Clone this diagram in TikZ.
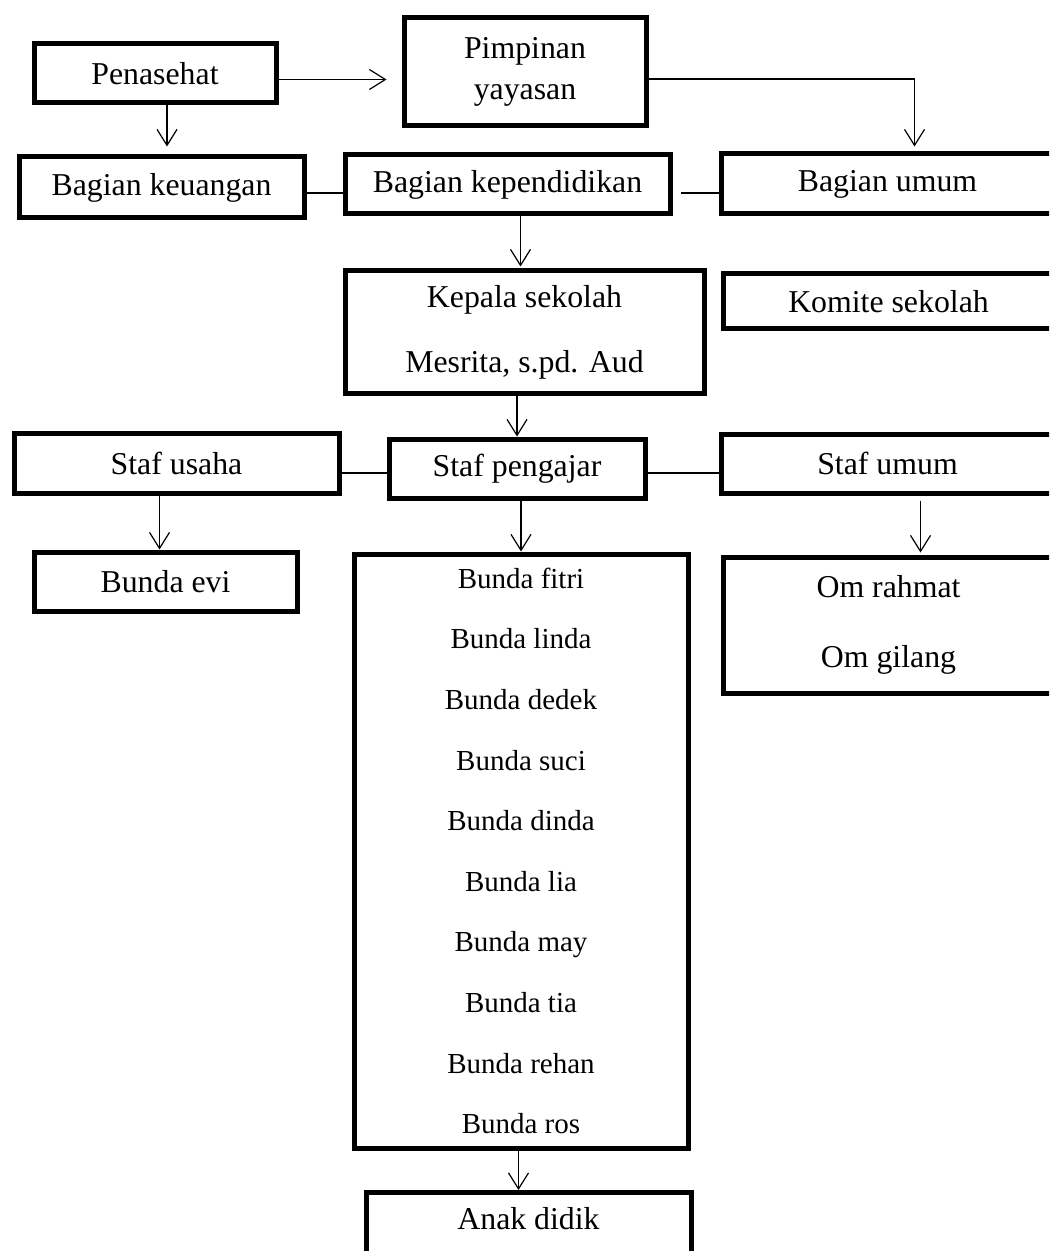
\documentclass[tikz,border=0pt]{standalone}
\usepackage{fontspec}
\setmainfont{Liberation Serif}
\usepackage{tikz}
\usetikzlibrary{arrows.meta}

\begin{document}
\begin{tikzpicture}[x=0.5pt, y=-0.5pt,
      box/.style={draw, line width=2.5pt, inner sep=0pt, align=center, font=\fontsize{15.9}{20.5}\selectfont},
      list/.style={box, font=\fontsize{14.5}{30.3}\selectfont},
      arr/.style={-{Straight Barb[length=8pt,width=10pt]}, line width=0.6pt},
      link/.style={line width=0.6pt}
    ]
    \useasboundingbox (0,0) rectangle (1049,1251);
    \clip (0,0) rectangle (1049,1251);
    \node[box, minimum width=121pt, minimum height=29.5pt] (pen) at (155,73.5) {Penasehat};
    \node[box, minimum width=121pt, minimum height=54pt] (pim) at (525,72) {Pimpinan\\yayasan};
    \node[box, minimum width=142.5pt, minimum height=30.5pt] (keu) at (161.5,187.5) {Bagian keuangan};
    \node[box, minimum width=162.5pt, minimum height=29.5pt] (kep) at (507.5,184.5) {Bagian kependidikan};
    \node[box, minimum width=166.5pt, minimum height=30pt] (umum) at (887.5,184) {Bagian umum};
    \node[box, minimum width=179.5pt, minimum height=61pt, font=\fontsize{15.9}{32.5}\selectfont] (kepsek) at (524.5,332) {Kepala sekolah\\Mesrita, s.pd. Aud};
    \node[box, minimum width=165.5pt, minimum height=27.5pt] (komite) at (888.5,301.5) {Komite sekolah};
    \node[box, minimum width=162.5pt, minimum height=30pt] (stu) at (176.5,463) {Staf usaha};
    \node[box, minimum width=128pt, minimum height=29.5pt] (stp) at (517,468.5) {Staf pengajar};
    \node[box, minimum width=166.5pt, minimum height=29.5pt] (stm) at (887.5,463.5) {Staf umum};
    \node[box, minimum width=131.5pt, minimum height=29.5pt] (evi) at (165.5,581.5) {Bunda evi};
    \node[list, minimum width=167pt, minimum height=297pt] (guru) at (521,851) {Bunda fitri\\Bunda linda\\Bunda dedek\\Bunda suci\\Bunda dinda\\Bunda lia\\Bunda may\\Bunda tia\\Bunda rehan\\Bunda ros};
    \node[box, minimum width=165.5pt, minimum height=68pt, font=\fontsize{15.9}{35}\selectfont] (om) at (888.5,625) {Om rahmat\\Om gilang};
    \node[box, minimum width=162.5pt, anchor=north, inner ysep=7.5pt, text height=11pt, text depth=30pt] (anak) at (528.5,1190) {Anak didik};
    % top level
    \draw[arr, shorten >=7.5pt] ([yshift=-3pt]pen.east) -- ([yshift=-3pt]pen.east -| pim.west);
    \draw[arr, shorten >=2.5pt] ([yshift=-3.5pt]pim.east) -| ([xshift=13.5pt]umum.north);
    \draw[arr, shorten >=4pt] ([xshift=6pt]pen.south) -- ([xshift=6pt]pen.south |- keu.north);
    \draw[link] ([yshift=-4.25pt]kep.west) -- ([yshift=-4.25pt]kep.west -| keu.east);
    \draw[link] ([yshift=-4.25pt, xshift=4pt]kep.east) -- ([yshift=-4.25pt]kep.east -| umum.west);
    \draw[arr, shorten >=1pt] ([xshift=-2pt]kepsek.north |- kep.south) -- ([xshift=-2pt]kepsek.north);
    % staf
    \draw[arr] (stp.north |- kepsek.south) -- (stp.north);
    \draw[link] ([yshift=-2.25pt]stp.west) -- ([yshift=-2.25pt]stp.west -| stu.east);
    \draw[link] ([yshift=-2.25pt]stp.east) -- ([yshift=-2.25pt]stp.east -| stm.west);
    \draw[arr] ([xshift=-3pt]evi.north |- stu.south) -- ([xshift=-3pt]evi.north);
    \draw[arr] (guru.north |- stp.south) -- (guru.north);
    \draw[arr, shorten <=2.5pt, shorten >=1pt] ([xshift=16pt]om.north |- stm.south) -- ([xshift=16pt]om.north);
    \draw[arr] ([xshift=-5pt]anak.north |- guru.south) -- ([xshift=-5pt]anak.north);
  \end{tikzpicture}
\end{document}
